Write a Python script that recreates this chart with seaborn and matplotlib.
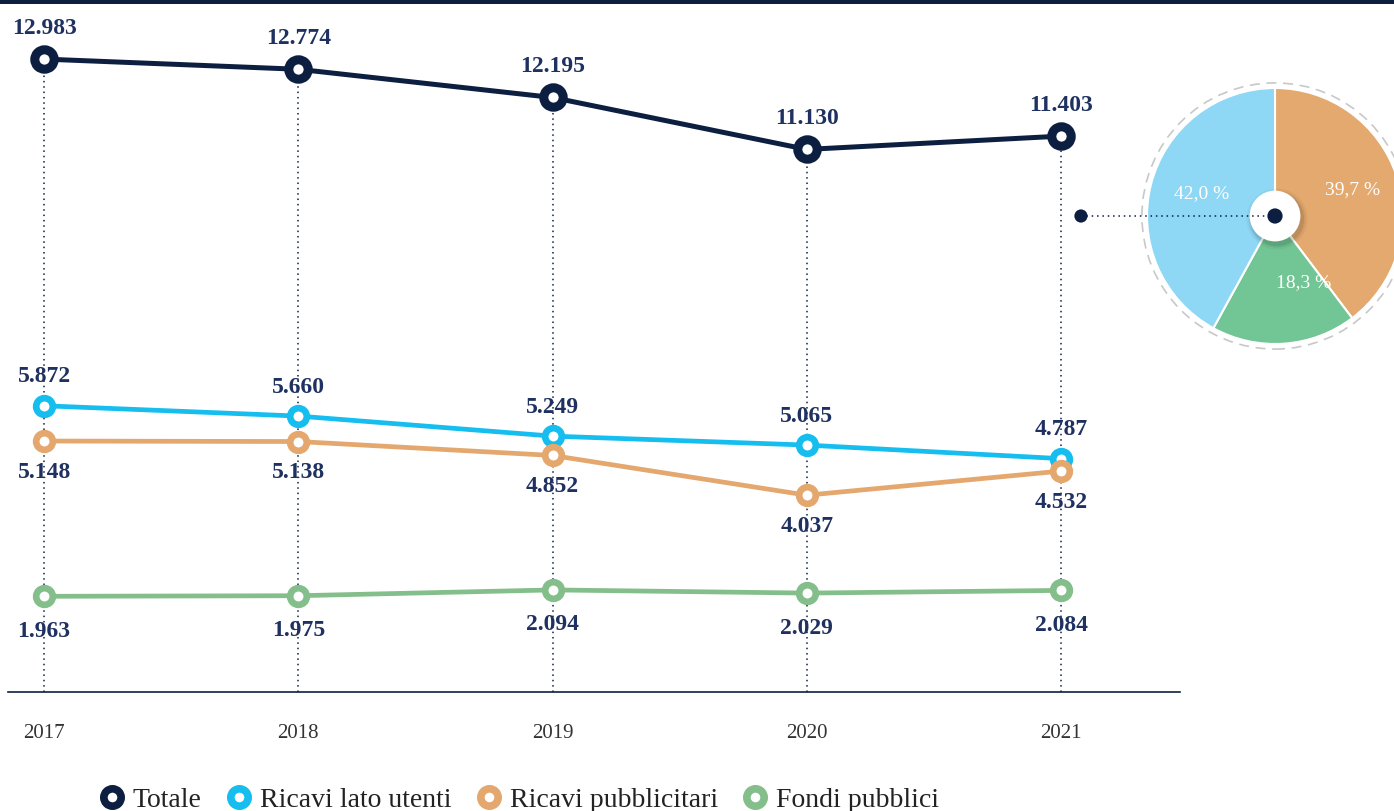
import matplotlib.pyplot as plt
import seaborn as sns
import pandas as pd
from matplotlib.lines import Line2D
from matplotlib.patches import Circle, Rectangle

# Dati (milioni di euro)
anni = [2017, 2018, 2019, 2020, 2021]
totale = [12983, 12774, 12195, 11130, 11403]
ricavi_utenti = [5872, 5660, 5249, 5065, 4787]
ricavi_pubblicitari = [5148, 5138, 4852, 4037, 4532]
fondi_pubblici = [1963, 1975, 2094, 2029, 2084]

serie_nomi = ["Totale", "Ricavi lato utenti", "Ricavi pubblicitari", "Fondi pubblici"]
# composizione 2021 (%)
quote_nomi = ["Ricavi pubblicitari", "Fondi pubblici", "Ricavi lato utenti"]
quote_valori = [39.7, 18.3, 42.0]

NAVY = "#0d1f40"
LABEL = "#1f3160"
colori_linee = {
    "Totale": NAVY,
    "Ricavi lato utenti": "#16bdef",
    "Ricavi pubblicitari": "#e4a76e",
    "Fondi pubblici": "#84be8a",
}
colori_torta = {
    "Ricavi pubblicitari": "#e3a96f",
    "Fondi pubblici": "#72c594",
    "Ricavi lato utenti": "#8ed8f5",
}

df = pd.DataFrame({
    "anno": anni * 4,
    "valore": totale + ricavi_utenti + ricavi_pubblicitari + fondi_pubblici,
    "serie": [s for s in serie_nomi for _ in anni],
})

sns.set_theme(style="white")
plt.rcParams["font.family"] = ["Liberation Serif", "DejaVu Serif"]

fig = plt.figure(figsize=(13.94, 8.11), dpi=100)
ax = fig.add_axes([8 / 1394, 119 / 811, 1172 / 1394, 692 / 811])

# linee verticali tratteggiate
ax.vlines(anni, 0, totale, colors=NAVY, linestyles=(0, (1, 2.5)), lw=1.1, zorder=1)

stili = {
    "Totale": dict(ms=14, mew=6.5, lw=3.6),
    "Ricavi lato utenti": dict(ms=12, mew=4.8, lw=3.4),
    "Ricavi pubblicitari": dict(ms=12, mew=4.8, lw=3.4),
    "Fondi pubblici": dict(ms=12, mew=4.8, lw=3.4),
}
offset = {
    "Totale": 31,
    "Ricavi lato utenti": 29,
    "Ricavi pubblicitari": -31,
    "Fondi pubblici": -35,
}

for nome in serie_nomi:
    sub = df[df["serie"] == nome]
    st = stili[nome]
    sns.lineplot(data=sub, x="anno", y="valore", ax=ax, color=colori_linee[nome],
                 lw=st["lw"], marker="o", ms=st["ms"], mew=st["mew"],
                 mfc="white", mec=colori_linee[nome], zorder=3, legend=False)
    for x, y in zip(sub["anno"], sub["valore"]):
        ax.annotate(f"{y:,}".replace(",", "."), (x, y), xytext=(0, offset[nome] * 0.72),
                    textcoords="offset points", ha="center", va="center",
                    fontsize=17, fontweight="bold", color=LABEL, zorder=4)

ax.set_xlim(2016.858, 2021.468)
ax.set_ylim(0, 14195)
ax.set_xticks(anni)
ax.set_xticklabels([str(a) for a in anni], fontsize=15, color="#333333")
ax.tick_params(axis="x", length=0, pad=23)
ax.set_yticks([])
ax.set_xlabel("")
ax.set_ylabel("")
for s in ["top", "left", "right"]:
    ax.spines[s].set_visible(False)
ax.spines["bottom"].set_color(NAVY)
ax.spines["bottom"].set_linewidth(1.2)
ax.patch.set_alpha(0)

# banda superiore
fig.add_artist(Rectangle((0, 807 / 811), 1, 4 / 811, transform=fig.transFigure,
                         color=NAVY, lw=0))

# torta 2021
R = 126
ax2 = fig.add_axes([(1275 - 160) / 1394, (811 - 216 - 160) / 811, 320 / 1394, 320 / 811])
ax2.set_xlim(-160 / R, 160 / R)
ax2.set_ylim(-160 / R, 160 / R)
ax2.set_aspect("equal")
ax2.axis("off")
wedges, txts, auto = ax2.pie(
    quote_valori, colors=[colori_torta[n] for n in quote_nomi], startangle=90,
    counterclock=False, radius=1, pctdistance=0.64,
    autopct=lambda p: f"{p:.1f}".replace(".", ",") + " %",
    wedgeprops=dict(edgecolor="white", linewidth=1.5),
    textprops=dict(color="white", fontsize=14),
)
auto[1].set_position((28 / R, -66 / R))
auto[2].set_position((-72 / R, 22 / R))
ax2.add_patch(Circle((0, 0), 131 / R, fill=False, ec="#c8c8c8", lw=1.2,
                     ls=(0, (6, 4)), clip_on=False))
for r, a in [(30, 0.04), (28, 0.06), (26.5, 0.08)]:
    ax2.add_patch(Circle((2 / R, -3 / R), r / R, fc="#000000", alpha=a, lw=0, zorder=5))
ax2.add_patch(Circle((0, 0), 25 / R, fc="white", lw=0, zorder=6))
ax2.add_patch(Circle((0, 0), 7.5 / R, fc=NAVY, lw=0, zorder=8))
ax2.add_line(Line2D([-191 / R, 0], [0, 0], color=NAVY, lw=1.1, ls=(0, (1, 2.5)),
                    zorder=7, clip_on=False))
ax2.add_patch(Circle((-191 / R, 0), 6.5 / R, fc=NAVY, lw=0, zorder=8, clip_on=False))
for w in wedges:
    w.set_clip_on(False)

# legenda
handles = [Line2D([], [], ls="none", marker="o", ms=12.5, mew=5.5, mfc="white",
                  mec=colori_linee[n]) for n in serie_nomi]
fig.legend(handles, serie_nomi, loc="center left", bbox_to_anchor=(74 / 1394, 11 / 811),
           ncol=4, frameon=False, fontsize=20, handlelength=0.9, handletextpad=0.3,
           columnspacing=0.9, labelcolor="#222222")

fig.savefig("out.png", dpi=100)
